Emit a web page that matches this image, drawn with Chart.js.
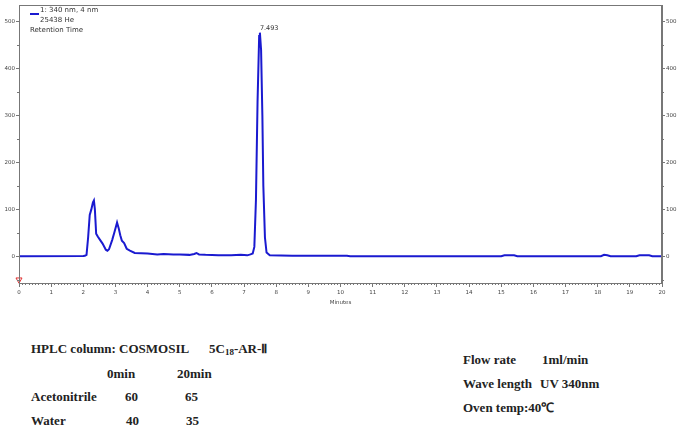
<!DOCTYPE html>
<html>
<head>
<meta charset="utf-8">
<script src="https://cdn.jsdelivr.net/npm/chart.js@4"></script>
<style>
  body { margin: 0; width: 677px; height: 426px; background: #fff; position: relative; overflow: hidden; }
  #wrap { position: absolute; left: 0; top: 0; width: 677px; height: 310px; }
  .leg { position: absolute; font: 7px "DejaVu Sans", sans-serif; color: #333; line-height: 8px; white-space: nowrap; }
  .swatch { position: absolute; left: 30px; top: 13px; width: 9px; height: 2px; background: #1a1ad0; }
  .t { position: absolute; font: bold 13px "Liberation Serif", "Times New Roman", serif; color: #222; line-height: 15px; white-space: nowrap; }
  .t sub { font-size: 9px; vertical-align: -2px; line-height: 0; }
</style>
</head>
<body>
<div id="wrap"><canvas id="chart" width="677" height="310"></canvas></div>

<div class="swatch"></div>
<div class="leg" style="left:40px;top:6px">1: 340 nm, 4 nm</div>
<div class="leg" style="left:40px;top:16px">25438 He</div>
<div class="leg" style="left:30px;top:26px">Retention Time</div>

<div class="t" style="left:31px;top:341px">HPLC column: COSMOSIL</div>
<div class="t" style="left:209px;top:341px">5C<sub>18</sub>-AR-Ⅱ</div>
<div class="t" style="left:107px;top:366px">0min</div>
<div class="t" style="left:177px;top:366px">20min</div>
<div class="t" style="left:31px;top:389px">Acetonitrile</div>
<div class="t" style="left:125px;top:389px">60</div>
<div class="t" style="left:185px;top:389px">65</div>
<div class="t" style="left:31px;top:413px">Water</div>
<div class="t" style="left:126px;top:413px">40</div>
<div class="t" style="left:186px;top:413px">35</div>

<div class="t" style="left:463px;top:352px">Flow rate</div>
<div class="t" style="left:542px;top:352px">1ml/min</div>
<div class="t" style="left:463px;top:376px">Wave length</div>
<div class="t" style="left:540px;top:376px">UV 340nm</div>
<div class="t" style="left:463px;top:400px">Oven temp:40℃</div>

<script>
// chromatogram trace (minutes / mAU)
const times = [0, 2.0, 2.05, 2.1, 2.15, 2.2, 2.25, 2.3, 2.33, 2.36, 2.4, 2.45, 2.52, 2.6, 2.7, 2.75, 2.8, 2.9, 2.97, 3.05,
  3.1, 3.15, 3.2, 3.27, 3.35, 3.45, 3.6, 4.0, 4.3, 4.5, 4.8, 5.0, 5.3, 5.45, 5.52, 5.6, 5.8, 6.2, 6.6, 6.9,
  7.1, 7.2, 7.27, 7.32, 7.37, 7.42, 7.47, 7.493, 7.53, 7.57, 7.6, 7.65, 7.7, 7.8, 8.5, 10.2, 10.3, 15.0, 15.1, 15.4,
  15.5, 18.1, 18.2, 18.3, 18.4, 19.2, 19.3, 19.6, 19.7, 20];
const signal = [0, 0.5, 1, 3, 40, 88, 100, 115, 119, 100, 48, 42, 35, 27, 14, 12, 15, 35, 52, 72,
  60, 45, 33, 28, 16, 12, 7, 6, 4, 5, 4, 4, 3, 5, 7, 4, 3, 2, 2, 3,
  2, 4, 6, 20, 120, 330, 470, 477, 440, 300, 150, 40, 8, 2, 1, 1, 0, 0, 2, 2,
  0, 0, 3, 2, 0, 0, 2, 2, 0, 0];

const peakTime = 7.493;
const peakLabel = "7.493";
const injectMark = [{ x: 0, y: -50 }];

const yTicks = [0, 100, 200, 300, 400, 500];

const lineColor = "#1a1ad0";
const axisColor = "#777";

const frame = {
  id: "frame",
  afterDraw(chart) {
    const { ctx, chartArea: a, scales } = chart;
    ctx.save();
    ctx.strokeStyle = axisColor;
    ctx.lineWidth = 1;
    ctx.strokeRect(a.left + 0.5, a.top + 0.5, a.right - a.left - 1, a.bottom - a.top);

    // minor ticks
    ctx.beginPath();
    for (let i = 1; i < 200; i++) {
      if (i % 10 === 0) continue;
      const x = Math.round(scales.x.getPixelForValue(i / 10)) + 0.5;
      ctx.moveTo(x, a.bottom);
      ctx.lineTo(x, a.bottom + 2);
    }
    for (let v = -50; v <= 500; v += 50) {
      if (v % 100 === 0) continue;
      const y = Math.round(scales.y.getPixelForValue(v)) + 0.5;
      ctx.moveTo(a.left, y);
      ctx.lineTo(a.left - 2, y);
      ctx.moveTo(a.right, y);
      ctx.lineTo(a.right + 2, y);
    }
    ctx.stroke();

    // peak label
    const px = scales.x.getPixelForValue(peakTime);
    const py = scales.y.getPixelForValue(477);
    ctx.fillStyle = "#333";
    ctx.font = "6.5px 'DejaVu Sans', sans-serif";
    ctx.textAlign = "left";
    ctx.textBaseline = "bottom";
    ctx.fillText(peakLabel, px, py - 1);
    ctx.restore();
  }
};

const tickFont = { family: "DejaVu Sans", size: 5.5 };

function yAxis(position, width) {
  return {
    type: "linear",
    position: position,
    min: -57,
    max: 536,
    afterBuildTicks: (s) => { s.ticks = yTicks.map(v => ({ value: v })); },
    afterFit: (s) => { s.width = width; },
    grid: { drawOnChartArea: false, tickLength: 3, color: axisColor },
    border: { color: axisColor },
    ticks: { font: tickFont, color: "#444", padding: 1 }
  };
}

new Chart(document.getElementById("chart"), {
  type: "line",
  data: {
    datasets: [
      {
        data: times.map((t, i) => ({ x: t, y: signal[i] })),
        borderColor: lineColor,
        borderWidth: 2,
        pointRadius: 0,
        tension: 0
      },
      {
        data: injectMark,
        showLine: false,
        pointStyle: "triangle",
        rotation: 180,
        pointRadius: 3.5,
        borderColor: "#e03030",
        borderWidth: 1,
        backgroundColor: "rgba(0,0,0,0)",
        clip: false
      }
    ]
  },
  options: {
    responsive: false,
    animation: false,
    layout: { padding: { top: 4, left: 0, right: 0, bottom: 0 } },
    plugins: { legend: { display: false }, tooltip: { enabled: false } },
    scales: {
      x: {
        type: "linear",
        min: 0,
        max: 20,
        afterFit: (s) => { s.height = 27; },
        grid: { drawOnChartArea: false, tickLength: 4, color: axisColor },
        border: { color: axisColor },
        ticks: { stepSize: 1, font: tickFont, color: "#444", padding: 2, maxRotation: 0 },
        title: { display: true, text: "Minutes", font: tickFont, color: "#444", padding: { top: 0, bottom: 4 } }
      },
      y: yAxis("left", 19),
      y2: yAxis("right", 15)
    }
  },
  plugins: [frame]
});
</script>
</body>
</html>
